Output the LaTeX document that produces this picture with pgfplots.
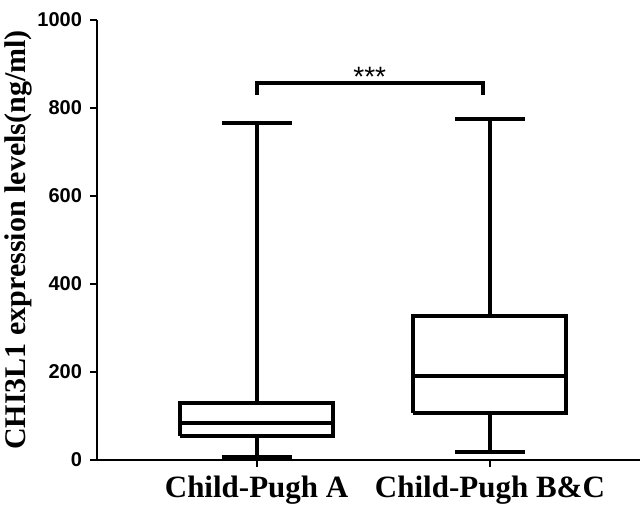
\documentclass[border=0pt]{standalone}
\usepackage{fontspec}
\setmainfont{Liberation Serif}
\setsansfont{Liberation Sans}
\usepackage{pgfplots}
\pgfplotsset{compat=1.18}
\tikzset{bp/.style={black, line width=2pt, mark=none, line join=miter}}
\begin{document}
\begin{tikzpicture}
\begin{axis}[
  at={(0,0)}, anchor=south west,
  scale only axis,
  width=271.5pt, height=220pt,
  xmin=0.316, xmax=2.643,
  ymin=0, ymax=1000,
  axis x line*=bottom, axis y line*=left,
  axis line style={line width=1pt,-},
  tick style={line width=1pt,black},
  tick align=outside,
  major tick length=3.5pt,
  xtick={1,2},
  xticklabels={Child-Pugh A, Child-Pugh B\&C},
  ytick={0,200,400,600,800,1000},
  /pgf/number format/assume math mode=true,
  /pgf/number format/1000 sep={},
  yticklabel style={font=\sffamily\bfseries\fontsize{10}{12}\selectfont, xshift=-0.5pt},
  xticklabel style={font=\bfseries\fontsize{15.5}{18}\selectfont, yshift=-1pt},
  ylabel={CHI3L1 expression levels(ng/ml)},
  every axis y label/.style={at={(axis description cs:-0.1455,0.5)}, rotate=90, anchor=center,
     font=\bfseries\fontsize{15}{18}\selectfont},
  clip=false,
]
% Child-Pugh A: whiskers 6/766, quartiles 55/130, median 83
\addplot[bp] coordinates {(0.672,55) (1.328,55) (1.328,130) (0.672,130) (0.672,55)};
\addplot[bp] coordinates {(0.672,83) (1.328,83)};
\addplot[bp] coordinates {(1,130) (1,766)};
\addplot[bp] coordinates {(1,55) (1,6)};
\addplot[bp] coordinates {(0.85,766) (1.15,766)};
\addplot[bp] coordinates {(0.85,6) (1.15,6)};
% Child-Pugh B&C: whiskers 19/774, quartiles 106/327, median 191
\addplot[bp] coordinates {(1.672,106) (2.328,106) (2.328,327) (1.672,327) (1.672,106)};
\addplot[bp] coordinates {(1.672,191) (2.328,191)};
\addplot[bp] coordinates {(2,327) (2,774)};
\addplot[bp] coordinates {(2,106) (2,19)};
\addplot[bp] coordinates {(1.85,774) (2.15,774)};
\addplot[bp] coordinates {(1.85,19) (2.15,19)};
% significance bracket
\addplot[bp] coordinates {(1,830) (1,857) (1.97,857) (1.97,830)};
\node[font=\sffamily\fontsize{14}{16}\selectfont, anchor=south, inner sep=0pt] at (axis cs:1.485,849) {***};
\end{axis}
\pgfresetboundingbox
\path[use as bounding box] (-48.5pt,-23pt) rectangle (273pt,230pt);
\end{tikzpicture}
\end{document}
